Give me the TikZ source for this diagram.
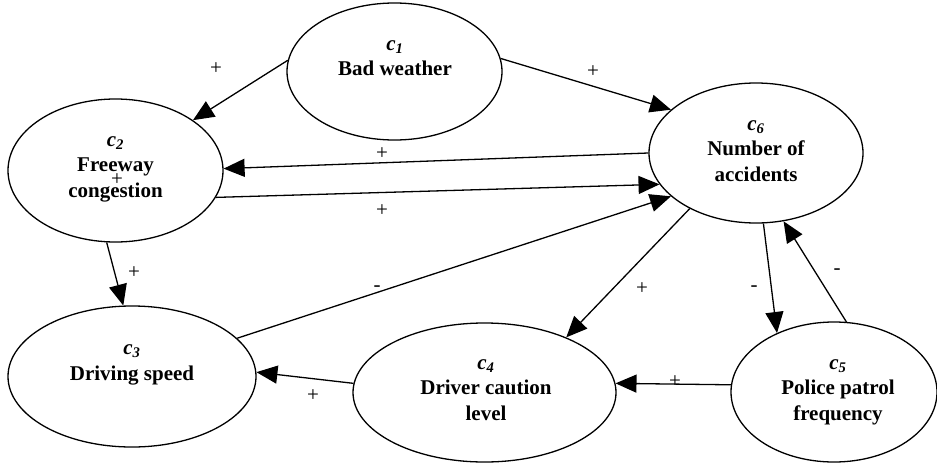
\documentclass[tikz,border=0pt]{standalone}
\usepackage{fontspec}
\setmainfont{Liberation Serif}
\usetikzlibrary{shapes.geometric,arrows.meta}
\begin{document}
\begin{tikzpicture}[x=1pt,y=-1pt,
  concept/.style={ellipse,draw,line width=1.3pt,inner sep=0pt},
  caption/.style={align=center,anchor=base,inner sep=0pt,
    font=\fontsize{21}{25.5}\selectfont\bfseries},
  link/.style={line width=1.3pt,-{Triangle[length=21pt,width=18pt]}},
  sign/.style={inner sep=0pt,font=\fontsize{21}{22}\selectfont}]
\useasboundingbox (0,0) rectangle (937,466);

% concepts
\node[concept,minimum width=215pt,minimum height=137pt] (c1) at (394.5,71.5) {};
\node[concept,minimum width=215pt,minimum height=143pt] (c2) at (115.5,170.5) {};
\node[concept,minimum width=214pt,minimum height=140pt] (c6) at (756,153) {};
\node[concept,minimum width=248pt,minimum height=141pt] (c3) at (132,376.5) {};
\node[concept,minimum width=263pt,minimum height=139pt] (c4) at (484.5,392.5) {};
\node[concept,minimum width=206pt,minimum height=140pt] (c5) at (834,392) {};

% concept captions (anchored at the baseline of the last line)
\node[caption] (t1) at (395,75.5) {{\itshape c\textsubscript{1}}\\Bad weather};
\node[caption] (t2) at (115.5,197) {{\itshape c\textsubscript{2}}\\Freeway\\congestion};
\node[caption] (t6) at (756,181) {{\itshape c\textsubscript{6}}\\Number of\\accidents};
\node[caption] (t3) at (132,380) {{\itshape c\textsubscript{3}}\\Driving speed};
\node[caption] (t4) at (486,420) {{\itshape c\textsubscript{4}}\\Driver caution\\level};
\node[caption] (t5) at (838,420) {{\itshape c\textsubscript{5}}\\Police patrol\\frequency};

% causal links
\draw[link] (c1.174) -- (c2.33);
\draw[link] (c1.7) -- (c6.153);
\draw[link] (c6.180) -- (c2.1);
\draw[link] (c2.-15) -- (c6.198);
\draw[link] (c2.263) -- (c3.97);
\draw[link] (c3.20) -- (c6.207);
\draw[link] (c6.220) -- (c4.34);
\draw[link] (c6.276) -- (c5.134);
\draw[link] (c5.80) -- (c6.292);
\draw[link] (c5.176) -- (c4.4);
\draw[link] (c4.176) -- (c3.2);

% link signs
\node[sign] (s1) at (216,69) {+};
\node[sign] (s2) at (593,72) {+};
\node[sign] (s3) at (382,154) {+};
\node[sign] (s4) at (382,211) {+};
\node[sign] (s5) at (117,180) {+};
\node[sign] (s6) at (134,273) {+};
\node[sign] (s7) at (377,289) {-};
\node[sign] (s8) at (642,289) {+};
\node[sign] (s9) at (754,289) {-};
\node[sign] (s10) at (837,272) {-};
\node[sign] (s11) at (675,382) {+};
\node[sign] (s12) at (313,396) {+};
\end{tikzpicture}
\end{document}
